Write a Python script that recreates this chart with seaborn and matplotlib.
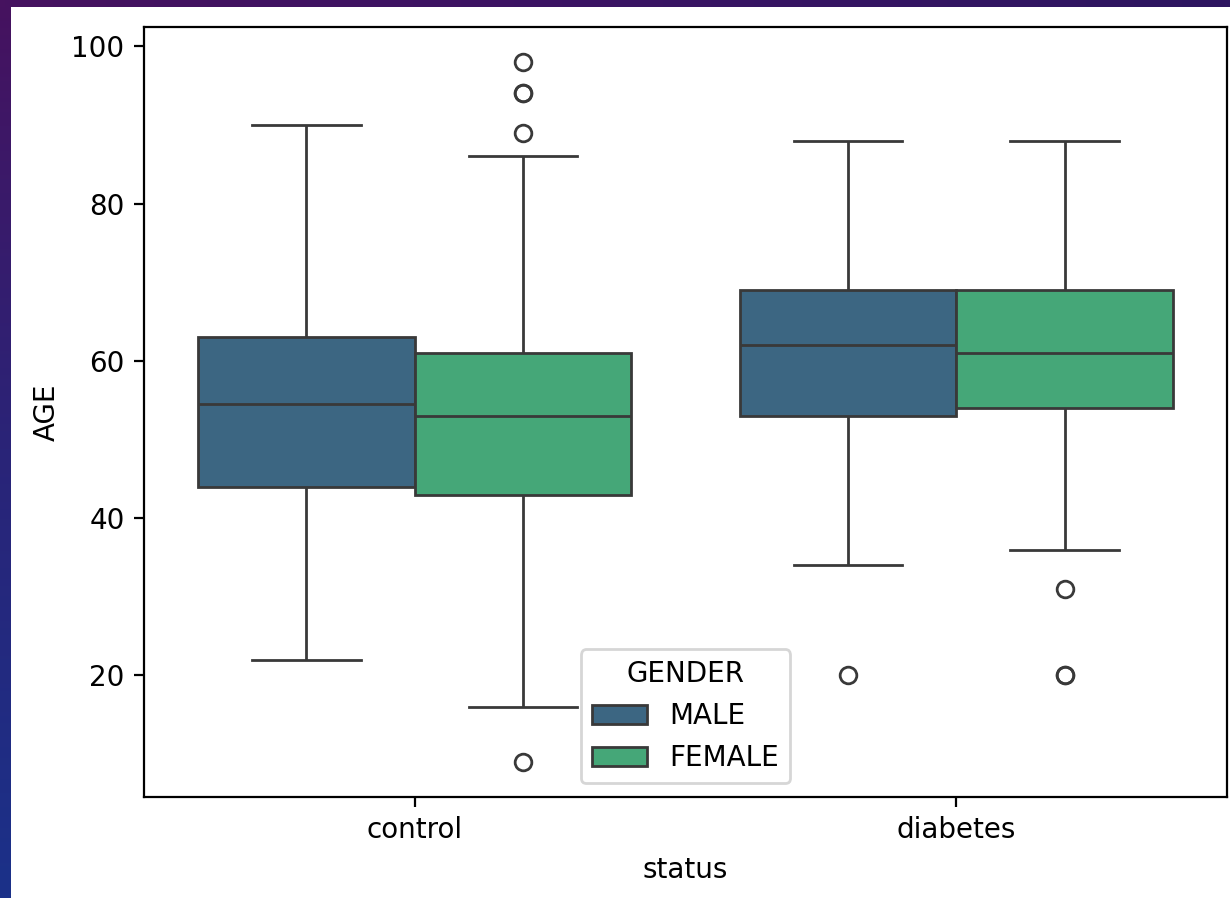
import numpy as np
import pandas as pd
import matplotlib
matplotlib.use("Agg")
import matplotlib.pyplot as plt
import seaborn as sns
from matplotlib.colors import LinearSegmentedColormap

# Values (ages per group, chosen so the quartiles,
# whisker ends and outliers match the boxes shown)
statuses = ["control", "diabetes"]
genders = ["MALE", "FEMALE"]
control_male = [22, 44, 54.5, 63, 90]
control_female = [9, 16, 43, 43, 43, 43, 53, 53, 53, 53, 53,
                  61, 61, 61, 61, 61, 86, 89, 94, 94, 98]
diabetes_male = [20, 34, 53, 53, 62, 62, 69, 88, 88]
diabetes_female = [20, 20, 31, 36, 54, 61, 61, 61, 61,
                   69, 69, 69, 69, 88, 88, 88, 88]

groups = {
    ("control", "MALE"): control_male,
    ("control", "FEMALE"): control_female,
    ("diabetes", "MALE"): diabetes_male,
    ("diabetes", "FEMALE"): diabetes_female,
}
rows = []
for (st, g), vals in groups.items():
    for v in vals:
        rows.append({"status": st, "GENDER": g, "AGE": v})
df = pd.DataFrame(rows)

DPI = 200
fig = plt.figure(figsize=(1230 / DPI, 898 / DPI), dpi=DPI)

# dark screenshot border (left and top strips)
grad = np.linspace(0, 1, 256).reshape(-1, 1)
left_strip = fig.add_axes([0, 0, 11 / 1230, 1])
cm_left = LinearSegmentedColormap.from_list("l", ["#46125f", "#2a2478", "#1b3189"])
left_strip.imshow(grad, aspect="auto", cmap=cm_left, extent=[0, 1, 0, 1], origin="upper")
left_strip.axis("off")
top_strip = fig.add_axes([0, 1 - 7 / 898, 1, 7 / 898])
cm_top = LinearSegmentedColormap.from_list("t", ["#46125f", "#3a1464", "#2d1660"])
top_strip.imshow(grad.T, aspect="auto", cmap=cm_top, extent=[0, 1, 0, 1])
top_strip.axis("off")

ax = fig.add_axes([144 / 1230, 1 - 797 / 898, (1227 - 144) / 1230, (797 - 27) / 898])
sns.boxplot(data=df, x="status", y="AGE", hue="GENDER", order=statuses,
            hue_order=genders, palette="viridis", ax=ax)
ax.set_xlabel("status")
ax.set_ylabel("AGE")
ax.set_yticks([20, 40, 60, 80, 100])
sns.move_legend(ax, "lower center", title="GENDER")

fig.savefig("out.png", dpi=DPI)
